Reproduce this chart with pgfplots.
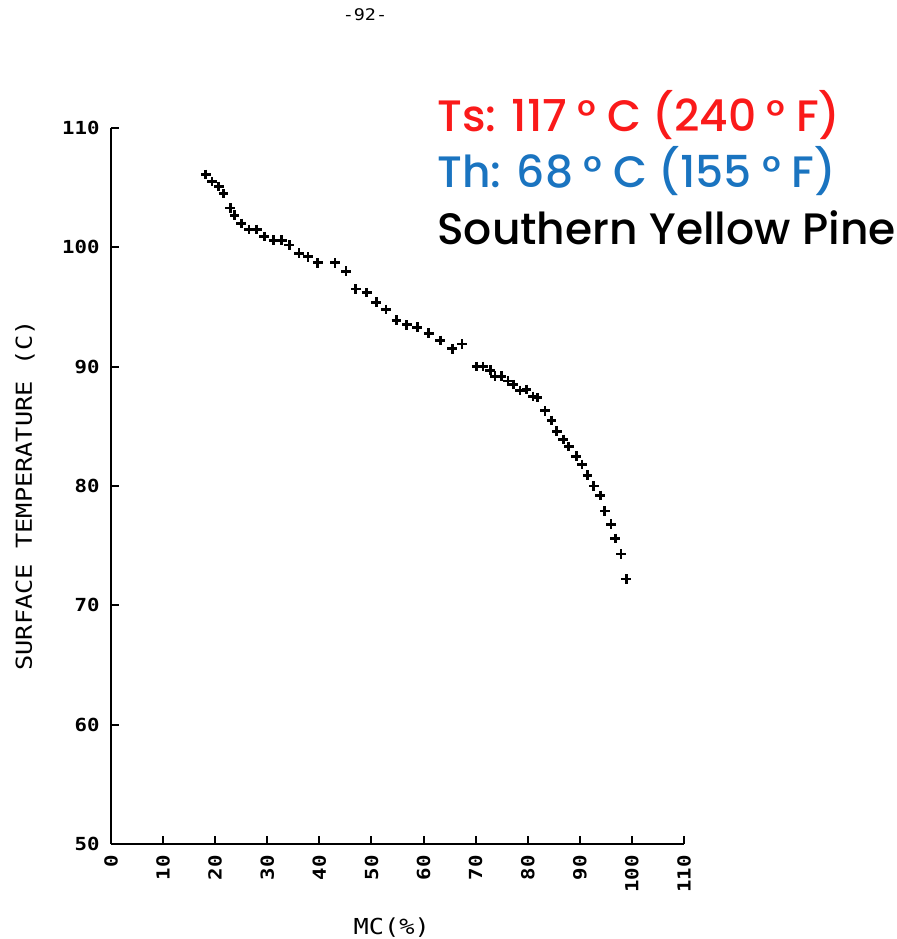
\documentclass[border=0pt]{standalone}
\usepackage{fontspec}
\usepackage{pgfplots}
\pgfplotsset{compat=1.18}
\setmainfont{Poppins}
\newfontfamily\plotfont[FakeStretch=1.15]{DejaVu Sans Mono}
\newfontfamily\annfont{Poppins}[UprightFont=* Medium]
\definecolor{annred}{HTML}{FA1A1A}
\definecolor{annblue}{HTML}{1A74C0}
\newcommand{\dg}{\hspace{0.24em}°\hspace{0.24em}}

\pgfplotstableread{
x y
18.2 106.1
19.4 105.5
20.7 105.1
21.6 104.5
22.9 103.3
23.7 102.7
25.0 102.0
26.5 101.5
28.0 101.5
29.4 100.9
31.2 100.6
32.8 100.6
34.2 100.2
36.1 99.5
37.8 99.2
39.7 98.7
43.0 98.7
45.1 98.0
47.0 96.5
49.1 96.2
50.9 95.4
52.8 94.8
54.8 93.9
56.8 93.5
58.8 93.3
61.0 92.8
63.2 92.2
65.5 91.5
67.4 91.9
70.2 90.0
71.4 90.0
72.8 89.7
73.7 89.2
75.0 89.2
76.2 88.8
77.2 88.5
78.5 88.0
79.8 88.1
81.0 87.5
81.9 87.4
83.3 86.3
84.6 85.5
85.6 84.6
86.8 83.9
87.9 83.3
89.3 82.5
90.4 81.8
91.5 80.9
92.7 80.0
93.9 79.2
94.8 77.9
96.0 76.8
96.8 75.6
97.9 74.3
98.9 72.2
}\mcdata

\begin{document}
\begin{tikzpicture}
\path[use as bounding box] (0,0) rectangle (448.5pt,469.5pt);
\begin{axis}[
  at={(55.5pt,47.5pt)}, anchor=south west,
  width=286.5pt, height=358pt, scale only axis,
  xmin=0, xmax=110, ymin=50, ymax=110,
  xtick={0,10,...,110}, ytick={50,60,...,110},
  axis lines*=left, axis line style={-, line width=1pt, black},
  tick align=inside, major tick length=4pt,
  tick style={line width=1pt, black},
  /pgf/number format/assume math mode=true,
  tick label style={font=\plotfont\bfseries\fontsize{9}{9}\selectfont},
  xticklabel style={rotate=90, anchor=east, inner sep=0pt, xshift=-5.5pt},
  yticklabel style={anchor=east, inner sep=0pt, xshift=-5.5pt},
  xlabel={MC(\%)},
  ylabel={SURFACE TEMPERATURE (C)},
  label style={font=\plotfont\fontsize{11}{11}\selectfont},
  xlabel style={at={(axis description cs:0.49,-0.117)}, anchor=center},
  ylabel style={at={(axis description cs:-0.150,0.487)}, anchor=center, rotate=0},
  clip=false,
]
\addplot[only marks, mark=+, mark size=2.4pt, line width=1.4pt, black] table {\mcdata};
\end{axis}
\node[font=\plotfont\fontsize{8}{8}\selectfont] at (182.5pt,462pt) {-92-};
\node[anchor=base west, inner sep=0pt, text=annred, font=\annfont\fontsize{22}{22}\selectfont] at (218.5pt,403.5pt) {Ts: 117\dg C (240\dg F)};
\node[anchor=base west, inner sep=0pt, text=annblue, font=\annfont\fontsize{22}{22}\selectfont] at (218.5pt,375.5pt) {Th: 68\dg C (155\dg F)};
\node[anchor=base west, inner sep=0pt, text=black, font=\annfont\fontsize{22}{22}\selectfont] at (218.5pt,347pt) {Southern Yellow Pine};
\end{tikzpicture}
\end{document}
